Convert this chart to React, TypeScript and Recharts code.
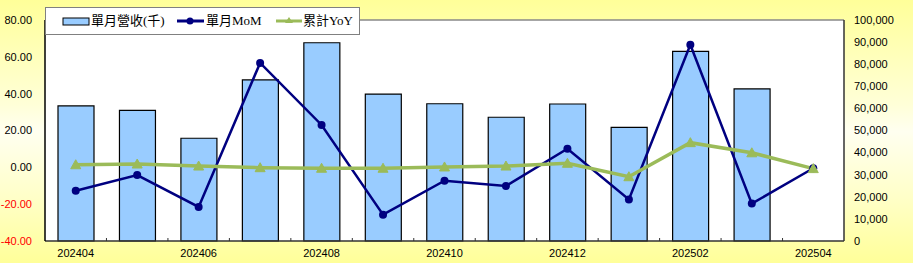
import { ComposedChart, Bar, Line, XAxis, YAxis, Legend, ReferenceLine, CartesianGrid } from 'recharts';

const MONTHS = ['202404', '202405', '202406', '202407', '202408', '202409', '202410', '202411', '202412', '202501', '202502', '202503', '202504'];
const REVENUE = [61100, 59100, 46500, 72900, 89700, 66500, 62100, 56000, 62000, 51400, 85800, 68800, null];
const MOM = [-12.7, -4.2, -21.5, 56.7, 23.0, -25.7, -7.3, -10.1, 10.1, -17.4, 66.6, -19.7, -0.5];
const YOY = [1.4, 1.8, 0.7, -0.2, -0.5, -0.5, 0.2, 0.7, 2.2, -5.1, 13.4, 7.9, -0.7];
const LEFT_TICKS = [-40, -20, 0, 20, 40, 60, 80];
const RIGHT_TICKS = [0, 10000, 20000, 30000, 40000, 50000, 60000, 70000, 80000, 90000, 100000];

const data = MONTHS.map((m, i) => ({ month: m, revenue: REVENUE[i], mom: MOM[i], yoy: YOY[i] }));

const BAR_FILL = '#99ccff';
const NAVY = '#000080';
const GREEN = '#9bbb59';
const AXIS_FONT = "'Liberation Sans', Arial, sans-serif";
const LEGEND_FONT = "'Liberation Serif', 'Noto Sans CJK TC', serif";

const LeftTick = (props: any) => {
  const { x, y, payload } = props;
  const v = payload.value;
  return (
    <text x={x} y={y} dy="0.35em" textAnchor="end" fontSize={11} fontFamily={AXIS_FONT} fill={v < 0 ? '#ff0000' : '#000'}>
      {v.toFixed(2)}
    </text>
  );
};

const RightTick = (props: any) => {
  const { x, y, payload } = props;
  return (
    <text x={x} y={y} dy="0.35em" textAnchor="start" fontSize={11} fontFamily={AXIS_FONT} fill="#000">
      {payload.value.toLocaleString('en-US')}
    </text>
  );
};

const XTick = (props: any) => {
  const { x, y, index, width } = props;
  const band = width / MONTHS.length;
  const axisY = y - 8;
  return (
    <g>
      {index < MONTHS.length - 1 && (
        <line x1={x + band / 2} x2={x + band / 2} y1={axisY} y2={axisY - 3} stroke="#333" />
      )}
      {index % 2 === 0 && (
        <text x={x} y={y} dy="0.71em" textAnchor="middle" fontSize={11} fontFamily={AXIS_FONT} fill="#000">
          {MONTHS[index]}
        </text>
      )}
    </g>
  );
};

const Triangle = (props: any) => {
  const { cx, cy } = props;
  if (cx == null || cy == null) return null;
  return <path d={`M${cx},${cy - 5} L${cx + 5},${cy + 4} L${cx - 5},${cy + 4} Z`} fill={GREEN} stroke={GREEN} />;
};

const LegendBox = () => (
  <div style={{ width: 313, height: 26, background: '#fff', border: '1px solid #808080', position: 'relative', fontFamily: LEGEND_FONT, fontSize: 13 }}>
    <svg width={313} height={26} style={{ position: 'absolute', left: 0, top: 0 }}>
      <rect x={17} y={10} width={26} height={7} fill={BAR_FILL} stroke="#000" strokeWidth={1} />
      <line x1={131} x2={158} y1={13} y2={13} stroke={NAVY} strokeWidth={3} />
      <circle cx={144} cy={13} r={3.5} fill={NAVY} />
      <line x1={230} x2={256} y1={13} y2={13} stroke={GREEN} strokeWidth={3} />
      <path d="M243,9 L247,15 L239,15 Z" fill={GREEN} />
    </svg>
    <span style={{ position: 'absolute', left: 45, top: 4, lineHeight: '17px' }}>單月營收(千)</span>
    <span style={{ position: 'absolute', left: 160, top: 4, lineHeight: '17px' }}>單月MoM</span>
    <span style={{ position: 'absolute', left: 257, top: 4, lineHeight: '17px' }}>累計YoY</span>
  </div>
);

export default function App() {
  return (
    <div
      style={{
        position: 'absolute',
        left: 0,
        top: 0,
        width: 913,
        height: 263,
        background: 'linear-gradient(to bottom, #ffff99 0%, #ffffd8 40%, #fffff0 50%, #ffffc8 75%, #ffff99 100%)',
      }}
    >
      <ComposedChart width={913} height={263} data={data} margin={{ top: 20, right: 0, bottom: 0, left: 0 }} barSize={36}>
        <CartesianGrid fill="#ffffff" horizontal={false} vertical={false} yAxisId="left" />
        <XAxis
          dataKey="month"
          height={22}
          interval={0}
          tickLine={false}
          tickSize={0}
          tickMargin={8}
          axisLine={{ stroke: '#333', strokeWidth: 1.5 }}
          tick={<XTick />}
        />
        <YAxis
          yAxisId="left"
          orientation="left"
          width={45}
          domain={[-40, 80]}
          ticks={LEFT_TICKS}
          interval={0}
          tickLine={false}
          tickSize={10}
          tickMargin={3}
          axisLine={{ stroke: '#000', strokeWidth: 1.5 }}
          tick={<LeftTick />}
        />
        <YAxis
          yAxisId="right"
          orientation="right"
          width={69}
          domain={[0, 100000]}
          ticks={RIGHT_TICKS}
          interval={0}
          tickLine={false}
          tickSize={7}
          tickMargin={3}
          axisLine={{ stroke: '#333', strokeWidth: 1.5 }}
          tick={<RightTick />}
        />
        <ReferenceLine yAxisId="left" y={80} stroke="#888" strokeWidth={1.5} />
        <Legend
          layout="vertical"
          align="center"
          verticalAlign="middle"
          content={<LegendBox />}
          wrapperStyle={{ left: 45, top: 7, width: 315, height: 28 }}
        />
        <Bar yAxisId="right" dataKey="revenue" fill={BAR_FILL} stroke="#000" strokeWidth={1.2} isAnimationActive={false} />
        <Line
          yAxisId="left"
          dataKey="mom"
          stroke={NAVY}
          strokeWidth={2.5}
          dot={{ r: 4, fill: NAVY, stroke: NAVY, strokeWidth: 0 }}
          activeDot={false}
          isAnimationActive={false}
        />
        <Line
          yAxisId="left"
          dataKey="yoy"
          stroke={GREEN}
          strokeWidth={3.5}
          dot={<Triangle />}
          activeDot={false}
          isAnimationActive={false}
        />
      </ComposedChart>
    </div>
  );
}
